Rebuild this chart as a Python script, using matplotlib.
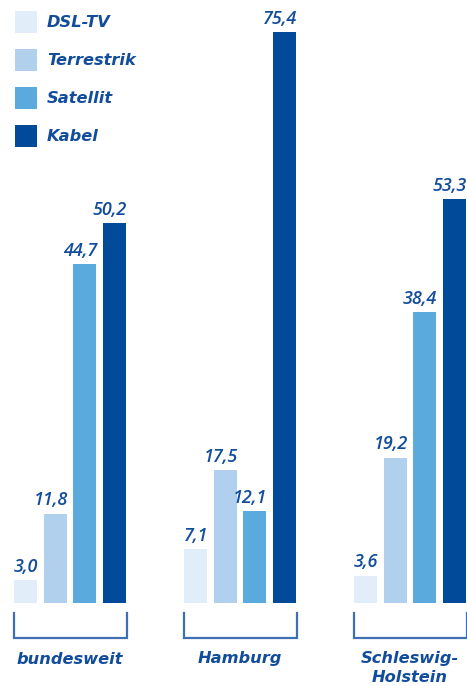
import matplotlib
matplotlib.use("Agg")
import matplotlib.pyplot as plt
from matplotlib.patches import Patch
import numpy as np

groups = ["bundesweit", "Hamburg", "Schleswig-\nHolstein"]
series = ["DSL-TV", "Terrestrik", "Satellit", "Kabel"]
dsl = [3.0, 7.1, 3.6]
terrestrik = [11.8, 17.5, 19.2]
satellit = [44.7, 12.1, 38.4]
kabel = [50.2, 75.4, 53.3]
colors = ["#e1edf9", "#b1d0ee", "#5aaade", "#004a99"]
text_color = "#124d9c"
bracket_color = "#3d6fb2"

values = [dsl, terrestrik, satellit, kabel]

fig = plt.figure(figsize=(4.67, 6.86), dpi=100)
ax = fig.add_axes([0, 0, 1, 1])
ax.set_xlim(-70 / 170, (467 - 70) / 170)
scale = (603 - 32) / 75.4
ax.set_ylim(-(686 - 603) / scale, 75.4 + 32 / scale)
ax.axis("off")

x = np.arange(len(groups))
pitch = 29.7 / 170
width = 22.8 / 170
font = ["DejaVu Sans"]
vfont = ["Open Sans", "DejaVu Sans"]
for i, (vals, c, name) in enumerate(zip(values, colors, series)):
    off = (i - 1.5) * pitch
    ax.bar(x + off, vals, width=width, color=c, label=name, linewidth=0)
    for xi, v in zip(x + off, vals):
        ax.annotate(f"{v:.1f}".replace(".", ","), (xi + width / 2, v),
                    xytext=(0.8, 6.0), textcoords="offset points",
                    ha="right", va="baseline",
                    fontsize=13, style="italic", fontweight="semibold",
                    color=text_color, family=vfont)

half = 56.5 / 170
y_top = -10 / scale
y_bot = -35 / scale
for xi, g in zip(x, groups):
    ax.plot([xi - half, xi - half, xi + half, xi + half],
            [y_top, y_bot, y_bot, y_top], color=bracket_color, lw=1.6,
            solid_joinstyle="miter", clip_on=False)
    ax.text(xi, -48.5 / scale, g, ha="center", va="top", fontsize=11.7,
            style="italic", fontweight="bold", color=text_color,
            family=font, linespacing=1.32)

fs = 11.7
handles = [Patch(facecolor=c, edgecolor="none") for c in colors]
leg = ax.legend(handles, series, loc="upper left",
                bbox_to_anchor=(15 / 467, 1 - 11 / 686),
                frameon=False, borderpad=0, borderaxespad=0,
                handlelength=1.354, handleheight=1.706, handletextpad=0.6,
                labelspacing=0.985, prop={"family": font, "size": fs,
                                          "style": "italic", "weight": "bold"})
for t in leg.get_texts():
    t.set_color(text_color)

fig.savefig("out.png", dpi=100)
